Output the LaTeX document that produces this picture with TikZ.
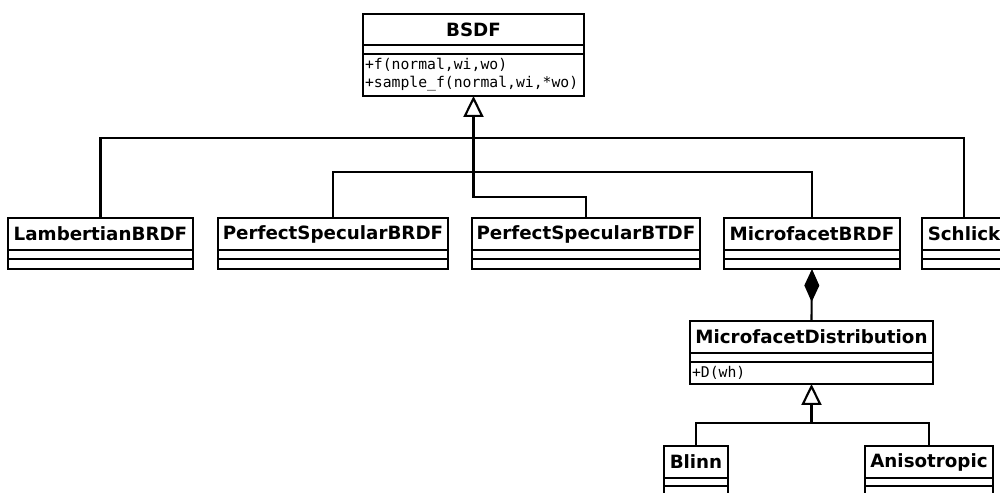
\documentclass[tikz,border=0pt]{standalone}
\usepackage{fontspec}
\setsansfont{DejaVu Sans}
\setmonofont{DejaVu Sans Mono}
\usetikzlibrary{arrows, arrows.meta, positioning}

\tikzset{
  cname/.style={draw, line width=1.2pt, anchor=north west, inner sep=0pt, outer sep=0pt, minimum height=0.64cm, font=\sffamily\bfseries\fontsize{10.4}{12}\selectfont},
  cattr/.style={draw, line width=1.2pt, inner sep=0pt, outer sep=0pt, minimum height=0.18cm},
  cmeth/.style={draw, line width=1.2pt, inner ysep=0pt, inner xsep=0.04cm, outer sep=0pt, align=left, font=\ttfamily\fontsize{8.4}{10.2}\selectfont},
  gen/.style={line width=1.2pt, -{Triangle[open, length=0.42cm, width=0.4cm]}},
  comp/.style={line width=1.2pt, -{Diamond[length=0.66cm, width=0.3cm]}},
  conn/.style={line width=1.2pt}
}

\begin{document}
\begin{tikzpicture}[x=0.02cm, y=-0.02cm]
\useasboundingbox (0,0) rectangle (1000,493);
\clip (0,0) rectangle (1000,493);

%base class
\node[cname, minimum width=4.42cm, minimum height=0.62cm] (bsdf) at (363,14) {BSDF};
\node[cattr, minimum width=4.42cm, below=0pt of bsdf] (bsdfa) {};
\node[cmeth, text width=4.34cm, minimum height=0.84cm, below=0pt of bsdfa] (bsdfm) {+f(normal,wi,wo)\\+sample\_f(normal,wi,*wo)};

%subclasses
\node[cname, minimum width=3.7cm] (lam) at (8,218) {LambertianBRDF};
\node[cattr, minimum width=3.7cm, below=0pt of lam] (lama) {};
\node[cattr, minimum width=3.7cm, minimum height=0.2cm, below=0pt of lama] (lamm) {};

\node[cname, minimum width=4.6cm] (psbrdf) at (218,218) {PerfectSpecularBRDF};
\node[cattr, minimum width=4.6cm, below=0pt of psbrdf] (psbrdfa) {};
\node[cattr, minimum width=4.6cm, minimum height=0.2cm, below=0pt of psbrdfa] (psbrdfm) {};

\node[cname, minimum width=4.56cm] (psbtdf) at (472,218) {PerfectSpecularBTDF};
\node[cattr, minimum width=4.56cm, below=0pt of psbtdf] (psbtdfa) {};
\node[cattr, minimum width=4.56cm, minimum height=0.2cm, below=0pt of psbtdfa] (psbtdfm) {};

\node[cname, minimum width=3.52cm] (mfbrdf) at (724,218) {MicrofacetBRDF};
\node[cattr, minimum width=3.52cm, below=0pt of mfbrdf] (mfbrdfa) {};
\node[cattr, minimum width=3.52cm, minimum height=0.2cm, below=0pt of mfbrdfa] (mfbrdfm) {};

\node[cname, minimum width=1.68cm] (schlick) at (922,218) {Schlick};
\node[cattr, minimum width=1.68cm, below=0pt of schlick] (schlicka) {};
\node[cattr, minimum width=1.68cm, minimum height=0.2cm, below=0pt of schlicka] (schlickm) {};

%distribution
\node[cname, minimum width=4.86cm] (mfdist) at (690,321) {MicrofacetDistribution};
\node[cattr, minimum width=4.86cm, below=0pt of mfdist] (mfdista) {};
\node[cmeth, text width=4.78cm, minimum height=0.44cm, below=0pt of mfdista] (mfdistm) {+D(wh)};

\node[cname, minimum width=1.28cm] (blinn) at (664,446) {Blinn};
\node[cattr, minimum width=1.28cm, minimum height=0.16cm, below=0pt of blinn] (blinna) {};
\node[cattr, minimum width=1.28cm, minimum height=0.2cm, below=0pt of blinna] (blinnm) {};

\node[cname, minimum width=2.56cm] (aniso) at (865,446) {Anisotropic};
\node[cattr, minimum width=2.56cm, minimum height=0.16cm, below=0pt of aniso] (anisoa) {};
\node[cattr, minimum width=2.56cm, minimum height=0.2cm, below=0pt of anisoa] (anisom) {};

%inheritance
\draw[gen] (psbtdf.north) -- ++(0,-21) -| (bsdfm.south);
\draw[conn] (lam.north) -- ++(0,-80) -| (schlick.north);
\draw[conn] (psbrdf.north) -- ++(0,-46) -| (mfbrdf.north);
\draw[gen] (blinn.north) -- ++(0,-23) -| (mfdistm.south);
\draw[conn] (aniso.north) -- ++(0,-23) -| (blinn.north);

%composition
\draw[comp] (mfdist.north) -- (mfbrdfm.south);
\end{tikzpicture}
\end{document}
